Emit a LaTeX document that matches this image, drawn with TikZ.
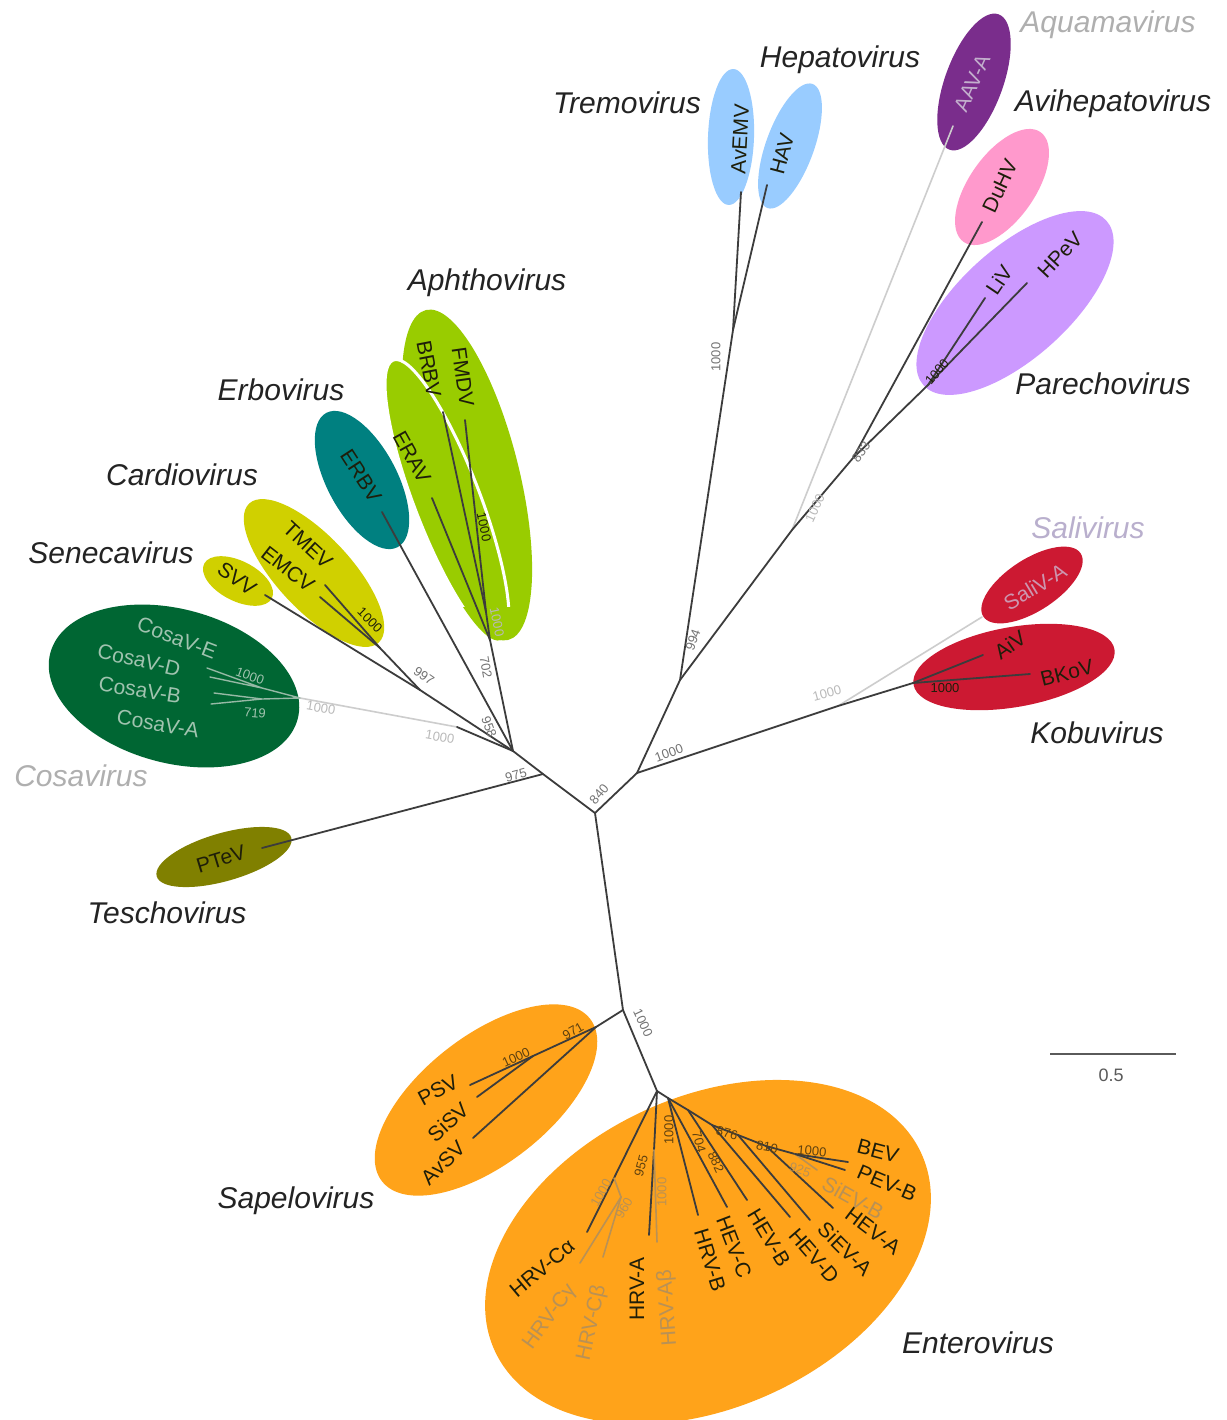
\documentclass[tikz,border=0pt]{standalone}
\usepackage{fontspec}
\setmainfont{Liberation Sans}
\definecolor{tremo}{RGB}{153,204,255}
\definecolor{aquama}{RGB}{122,45,140}
\definecolor{avihep}{RGB}{255,153,204}
\definecolor{parecho}{RGB}{204,153,255}
\definecolor{kobu}{RGB}{204,25,50}
\definecolor{aphtho}{RGB}{153,204,0}
\definecolor{erbo}{RGB}{0,128,128}
\definecolor{cardio}{RGB}{208,208,0}
\definecolor{cosa}{RGB}{0,102,51}
\definecolor{tescho}{RGB}{128,128,0}
\definecolor{entero}{RGB}{255,163,26}
\definecolor{branch}{RGB}{60,60,60}
\definecolor{lightbranch}{RGB}{205,205,205}
\definecolor{cosaline}{RGB}{150,185,165}
\definecolor{genustext}{RGB}{35,35,35}
\definecolor{greygenus}{RGB}{175,175,175}
\definecolor{salgenus}{RGB}{185,175,205}
\definecolor{boottext}{RGB}{115,115,115}
\definecolor{lightboot}{RGB}{185,185,185}
\definecolor{cosatext}{RGB}{160,195,175}
\definecolor{darktext}{RGB}{30,30,10}
\definecolor{entlight}{RGB}{185,145,85}
\definecolor{entdark}{RGB}{95,65,15}
\definecolor{aavtext}{RGB}{195,175,205}
\definecolor{salitext}{RGB}{205,150,175}
\definecolor{scalebar}{RGB}{90,90,90}
\newcommand{\genusblob}[6]{\fill[#1,rotate around={#4:(#2,#3)}] (#2,#3) ellipse ({#5} and {#6});}
\begin{document}
\begin{tikzpicture}[x=1pt,y=-1pt,
  br/.style={draw=branch,line width=1.8pt,line cap=round},
  gbr/.style={draw=lightbranch,line width=1.6pt,line cap=round},
  cbr/.style={draw=cosaline,line width=1.4pt,line cap=round},
  genus/.style={font=\fontsize{30}{34}\selectfont\itshape,text=genustext,inner sep=0pt},
  spec/.style={font=\fontsize{21}{23}\selectfont,text=darktext,inner sep=0pt},
  boot/.style={font=\fontsize{13}{15}\selectfont,text=boottext,inner sep=0pt},
]
\useasboundingbox (0,0) rectangle (1226,1420);
\fill[white] (0,0) rectangle (1226,1420);

% ---------- genus ellipses ----------
\genusblob{tremo}{731}{137}{88}{68}{23}
\genusblob{tremo}{790}{146}{70}{66}{24}
\genusblob{aquama}{974}{82}{70}{72}{29}
\genusblob{avihep}{1002}{187}{55}{67}{33}
\genusblob{parecho}{1015}{303}{42}{123}{55}
\genusblob{kobu}{1032}{585}{33}{58}{26}
\genusblob{kobu}{1014}{667}{10}{102}{40}
\genusblob{aphtho}{467}{475}{104}{170}{52}
\genusblob{aphtho}{447}{500}{111}{150}{33}
\begin{scope}
  \clip (300,300) rectangle (600,606);
  \draw[white,line width=3pt,rotate around={111:(447,500)}] (447,500) ellipse (150 and 33);
\end{scope}
\genusblob{erbo}{362}{480}{118}{76}{35}
\genusblob{cardio}{314}{573}{-47}{95}{37}
\genusblob{cardio}{238}{581}{-27}{38}{20}
\genusblob{cosa}{174}{686}{-15}{128}{77}
\genusblob{tescho}{224}{857}{16}{70}{24}
\genusblob{entero}{486}{1100}{38}{132}{64}
\genusblob{entero}{708}{1252}{25}{235}{155}

% ---------- tree coordinates ----------
\coordinate (C0) at (595,813);
\coordinate (A) at (513,751);
\coordinate (T) at (543,774);
\coordinate (S) at (420,690);
\coordinate (Q) at (457,727);
\coordinate (KN) at (380,648);
\coordinate (AN) at (490,640);
\coordinate (AN2) at (486,612);
\coordinate (R1) at (637,773);
\coordinate (P1) at (680,680);
\coordinate (H) at (733,330);
\coordinate (P2) at (792,530);
\coordinate (P3) at (853,458);
\coordinate (P4) at (928,385);
\coordinate (K1) at (838,706);
\coordinate (K2) at (913,683);
\coordinate (E1) at (623,1010);
\coordinate (Sp) at (596,1027);
\coordinate (Sp2) at (533,1056);
\coordinate (E2) at (657,1091);
\coordinate (CR) at (300,698);
\coordinate (CN1) at (262,688);
\coordinate (CN2) at (262,699);
\coordinate (lAvEMV) at (741,192);
\coordinate (lHAV) at (767,185);
\coordinate (lAAV) at (953,126);
\coordinate (lDuHV) at (982,222);
\coordinate (lLiV) at (985,298);
\coordinate (lHPeV) at (1027,283);
\coordinate (lSaliV) at (982,617);
\coordinate (lAiV) at (983,655);
\coordinate (lBKoV) at (1030,674);
\coordinate (lFMDV) at (465,420);
\coordinate (lBRBV) at (443,412);
\coordinate (lERAV) at (432,498);
\coordinate (lERBV) at (382,512);
\coordinate (lTMEV) at (325,585);
\coordinate (lEMCV) at (320,597);
\coordinate (lSVV) at (265,595);
\coordinate (lCE) at (207,668);
\coordinate (lCD) at (210,677);
\coordinate (lCB) at (214,693);
\coordinate (lCA) at (211,704);
\coordinate (lPTeV) at (262,848);
\coordinate (lPSV) at (470,1085);
\coordinate (lSiSV) at (477,1097);
\coordinate (lAvSV) at (473,1138);
\coordinate (eC) at (614,1178);
\coordinate (eCg) at (621,1197);
\coordinate (eA) at (654,1150);
\coordinate (s1) at (668,1098);
\coordinate (s2) at (688,1110);
\coordinate (s3) at (712,1125);
\coordinate (s4) at (738,1135);
\coordinate (s5) at (766,1146);
\coordinate (s6) at (795,1154);
\coordinate (lCa) at (587,1232);
\coordinate (lCg) at (580,1263);
\coordinate (lCb) at (603,1257);
\coordinate (lHRVA) at (649,1235);
\coordinate (lAb) at (657,1242);
\coordinate (lHRVB) at (698,1215);
\coordinate (lHEVC) at (727,1207);
\coordinate (lHEVB) at (747,1200);
\coordinate (lHEVD) at (790,1217);
\coordinate (lSiEVA) at (810,1220);
\coordinate (lHEVA) at (833,1208);
\coordinate (lSiEVB) at (817,1170);
\coordinate (lPEVB) at (845,1170);
\coordinate (lBEV) at (848,1162);

% ---------- branches ----------
\draw[gbr] (CR) -- (Q);
\draw[gbr] (P2) -- (lAAV);
\draw[gbr] (K1) -- (lSaliV);
\draw[cbr] (lCE) -- (CN1) (lCD) -- (CN1) (lCB) -- (CN2) (lCA) -- (CN2) (CN1) -- (CR) (CN2) -- (CR);
\draw[br] (C0) -- (T) -- (A);
\draw[br] (S) -- (A);
\draw[br] (KN) -- (S);
\draw[br] (lSVV) -- (S);
\draw[br] (lTMEV) -- (KN);
\draw[br] (lEMCV) -- (KN);
\draw[br] (Q) -- (A);
\draw[br] (lERBV) -- (A);
\draw[br] (AN) -- (A);
\draw[br] (lFMDV) -- (AN2);
\draw[br] (lBRBV) -- (AN2);
\draw[br] (AN2) -- (AN);
\draw[br] (lERAV) -- (AN);
\draw[br] (lPTeV) -- (T);
\draw[br] (C0) -- (R1) -- (P1) -- (H);
\draw[br] (H) -- (lAvEMV);
\draw[br] (H) -- (lHAV);
\draw[br] (P1) -- (P2) -- (P3) -- (P4);
\draw[br] (P3) -- (lDuHV);
\draw[br] (P4) -- (lLiV);
\draw[br] (P4) -- (lHPeV);
\draw[br] (R1) -- (K1) -- (K2);
\draw[br] (K2) -- (lAiV);
\draw[br] (K2) -- (lBKoV);
\draw[br] (C0) -- (E1) -- (Sp);
\draw[br] (E1) -- (E2);
\draw[br] (Sp) -- (Sp2) -- (lPSV);
\draw[br] (Sp2) -- (lSiSV);
\draw[br] (Sp) -- (lAvSV);
\draw[br] (E2) -- (eC) -- (lCa);
\draw[gbr,draw=entlight] (eC) -- (eCg) -- (lCg);
\draw[gbr,draw=entlight] (eCg) -- (lCb);
\draw[br] (E2) -- (eA) -- (lHRVA);
\draw[gbr,draw=entlight] (eA) -- (lAb);
\draw[br] (E2) -- (s1) -- (s2) -- (s3) -- (s4) -- (s5) -- (s6) -- (lBEV);
\draw[br] (s1) -- (lHRVB);
\draw[br] (s1) -- (lHEVC);
\draw[br] (s2) -- (lHEVB);
\draw[br] (s3) -- (lHEVD);
\draw[br] (s4) -- (lSiEVA);
\draw[br] (s5) -- (lHEVA);
\draw[gbr,draw=entlight] (s6) -- (lSiEVB);
\draw[br] (s6) -- (lPEVB);

% ---------- species labels ----------
\node[spec,rotate=87] (tAvEMV) at (740,139) {AvEMV};
\node[spec,rotate=75] (tHAV) at (782,154) {HAV};
\node[spec,rotate=66,text=aavtext] (tAAV) at (972,83) {AAV-A};
\node[spec,rotate=65] (tDuHV) at (1000,186) {DuHV};
\node[spec,rotate=56] (tLiV) at (999,280) {LiV};
\node[spec,rotate=47] (tHPeV) at (1060,255) {HPeV};
\node[spec,rotate=31,text=salitext] (tSaliV) at (1035,587) {SaliV-A};
\node[spec,rotate=35] (tAiV) at (1010,645) {AiV};
\node[spec,rotate=14] (tBKoV) at (1067,673) {BKoV};
\node[spec,rotate=-82] (tFMDV) at (463,377) {FMDV};
\node[spec,rotate=-79] (tBRBV) at (429,369) {BRBV};
\node[spec,rotate=-61] (tERAV) at (412,457) {ERAV};
\node[spec,rotate=-57] (tERBV) at (361,476) {ERBV};
\node[spec,rotate=-43] (tTMEV) at (308,545) {TMEV};
\node[spec,rotate=-38] (tEMCV) at (288,569) {EMCV};
\node[spec,rotate=-36] (tSVV) at (237,579) {SVV};
\node[spec,rotate=-21,text=cosatext] (tCE) at (177,638) {CosaV-E};
\node[spec,rotate=-13,text=cosatext] (tCD) at (139,660) {CosaV-D};
\node[spec,rotate=-9,text=cosatext] (tCB) at (140,690) {CosaV-B};
\node[spec,rotate=-10,text=cosatext] (tCA) at (158,724) {CosaV-A};
\node[spec,rotate=17] (tPTeV) at (221,859) {PTeV};
\node[spec,rotate=28] (tPSV) at (438,1090) {PSV};
\node[spec,rotate=42] (tSiSV) at (448,1122) {SiSV};
\node[spec,rotate=44] (tAvSV) at (443,1163) {AvSV};
\node[spec,rotate=40] (tCa) at (542,1268) {HRV-Cα};
\node[spec,rotate=54,text=entlight] (tCg) at (550,1317) {HRV-Cγ};
\node[spec,rotate=78,text=entlight] (tCb) at (592,1323) {HRV-Cβ};
\node[spec,rotate=90] (tHRVA) at (637,1289) {HRV-A};
\node[spec,rotate=94,text=entlight] (tAb) at (668,1308) {HRV-Aβ};
\node[spec,rotate=-73] (tHRVB) at (710,1260) {HRV-B};
\node[spec,rotate=-69] (tHEVC) at (734,1247) {HEV-C};
\node[spec,rotate=-59] (tHEVB) at (769,1238) {HEV-B};
\node[spec,rotate=-49] (tHEVD) at (814,1256) {HEV-D};
\node[spec,rotate=-45] (tSiEVA) at (845,1249) {SiEV-A};
\node[spec,rotate=-37] (tHEVA) at (873,1231) {HEV-A};
\node[spec,rotate=-29,text=entlight] (tSiEVB) at (853,1198) {SiEV-B};
\node[spec,rotate=-23] (tPEVB) at (887,1183) {PEV-B};
\node[spec,rotate=-15] (tBEV) at (878,1151) {BEV};

% ---------- genus labels ----------
\node[genus] (gTremo) at (627,103) {Tremovirus};
\node[genus] (gHepato) at (840,60) {Hepatovirus};
\node[genus,text=greygenus] (gAquama) at (1108,25) {Aquamavirus};
\node[genus] (gAvihep) at (1113,104) {Avihepatovirus};
\node[genus] (gParecho) at (1103,384) {Parechovirus};
\node[genus] (gAphtho) at (487,283) {Aphthovirus};
\node[genus] (gErbo) at (281,390) {Erbovirus};
\node[genus] (gCardio) at (182,475) {Cardiovirus};
\node[genus] (gSeneca) at (111,553) {Senecavirus};
\node[genus,text=greygenus] (gCosa) at (81,776) {Cosavirus};
\node[genus] (gTescho) at (167,913) {Teschovirus};
\node[genus,text=salgenus] (gSali) at (1088,528) {Salivirus};
\node[genus] (gKobu) at (1097,733) {Kobuvirus};
\node[genus] (gSapelo) at (296,1201) {Sapelovirus};
\node[genus] (gEntero) at (978,1343) {Enterovirus};

% ---------- bootstrap values ----------
\node[boot,rotate=90] (b1) at (716,357) {1000};
\node[boot,rotate=70] (b2) at (693,640) {994};
\node[boot,rotate=50] (b3) at (599,794) {840};
\node[boot,rotate=20] (b4) at (669,753) {1000};
\node[boot,rotate=15] (b5) at (516,775) {975};
\node[boot,rotate=-70] (b6) at (489,727) {958};
\node[boot,rotate=-80] (b7) at (486,667) {702};
\node[boot,rotate=-35] (b8) at (424,676) {997};
\node[boot,rotate=-10,text=lightboot] (b9) at (440,737) {1000};
\node[boot,rotate=-10,text=lightboot] (b10) at (321,708) {1000};
\node[boot,rotate=-20,text=cosatext] (b11) at (250,676) {1000};
\node[boot,rotate=-5,text=cosatext] (b12) at (255,713) {719};
\node[boot,rotate=-45,text=darktext] (b13) at (370,620) {1000};
\node[boot,rotate=-78,text=darktext] (b14) at (484,527) {1000};
\node[boot,rotate=-78,text=lightboot] (b15) at (497,622) {1000};
\node[boot,rotate=55] (b16) at (861,452) {833};
\node[boot,rotate=65,text=lightboot] (b17) at (815,508) {1000};
\node[boot,rotate=50,text=darktext] (b18) at (937,372) {1000};
\node[boot,rotate=15,text=lightboot] (b19) at (827,693) {1000};
\node[boot,text=darktext] (b20) at (945,688) {1000};
\node[boot,rotate=-65] (b21) at (643,1023) {1000};
\node[boot,rotate=30,text=entdark] (b22) at (573,1031) {971};
\node[boot,rotate=25,text=entdark] (b23) at (516,1057) {1000};
\node[boot,rotate=-15,text=entdark] (b24) at (727,1133) {876};
\node[boot,rotate=-10,text=entdark] (b25) at (767,1147) {810};
\node[boot,rotate=-5,text=entdark] (b26) at (812,1151) {1000};
\node[boot,rotate=-20,text=entlight] (b27) at (800,1170) {925};
\node[boot,rotate=-75,text=entdark] (b28) at (699,1142) {704};
\node[boot,rotate=-65,text=entdark] (b29) at (716,1162) {882};
\node[boot,rotate=90,text=entdark] (b30) at (669,1130) {1000};
\node[boot,rotate=75,text=entdark] (b31) at (641,1166) {955};
\node[boot,rotate=90,text=entlight] (b32) at (662,1192) {1000};
\node[boot,rotate=60,text=entlight] (b33) at (601,1193) {1000};
\node[boot,rotate=60,text=entlight] (b34) at (624,1208) {960};

% ---------- scale bar ----------
\coordinate (sbL) at (1050,1054);
\coordinate (sbR) at (1176,1054);
\draw[draw=scalebar,line width=1.6pt] (sbL) -- (sbR);
\node[font=\fontsize{18}{20}\selectfont,text=scalebar,inner sep=0pt] (sbT) at (1111,1075) {0.5};
\end{tikzpicture}
\end{document}
